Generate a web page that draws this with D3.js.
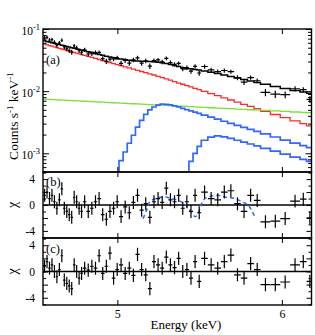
<!DOCTYPE html>
<html>
<head>
<meta charset="utf-8">
<script src="https://cdn.jsdelivr.net/npm/d3@7"></script>
<style>
  body { margin: 0; background: #fff; }
  svg { display: block; }
  text { font-family: "Liberation Serif", "Times New Roman", serif; fill: #000; }
</style>
</head>
<body>
<div id="chart"></div>
<script>
// energy bin edges (keV), 61 bins
var binEdges = [4.55,4.565,4.58,4.595,4.61,4.625,4.64,4.655,4.67,4.685,4.70,4.715,4.73,4.745,4.76,4.775,4.79,
    4.812,4.834,4.856,4.878,4.90,4.922,4.944,4.966,4.988,5.01,
    5.035,5.06,5.085,5.11,5.135,5.16,5.185,5.21,5.235,5.26,5.285,5.31,5.335,5.36,5.385,5.41,5.435,5.46,5.485,5.51,
    5.55,5.59,5.63,5.67,5.71,5.75,5.79,5.83,5.87,
    5.93,5.99,6.05,6.11,6.15,6.19];

// observed spectrum (counts s^-1 keV^-1) and 1 sigma errors
var counts = [0.0722,0.0732,0.0665,0.0674,0.0612,0.0552,0.0597,0.0659,0.0516,0.0482,0.0451,0.0425,0.0536,0.0498,0.0449,0.0420,
    0.0463,0.0396,0.0400,0.0419,0.0421,0.0333,0.0302,0.0327,0.0329,0.0346,
    0.0279,0.0312,0.0282,0.0318,0.0344,0.0282,0.0307,0.0252,0.0311,0.0318,0.0296,0.0338,0.0287,0.0269,0.0280,0.0229,0.0240,0.0210,0.0251,0.0196,
    0.0249,0.0220,0.0206,0.0215,0.0206,0.0165,0.0140,0.0165,0.0147,
    0.00955,0.00893,0.00877,0.01092,0.01056,0.00738];
var countErr = [0.00516,0.00505,0.00493,0.00482,0.0047,0.0046,0.00449,0.00439,0.0043,0.00419,0.0041,0.004,0.00391,0.00383,0.00374,0.00366,
    0.00356,0.00344,0.00334,0.00322,0.00312,0.00302,0.00293,0.00284,0.00274,0.00266,
    0.0028,0.00272,0.00267,0.00262,0.00259,0.00258,0.00257,0.00256,0.00253,0.00249,0.00243,0.00235,0.00229,0.00219,0.00211,0.00203,0.00196,0.00195,0.0019,0.00185,
    0.0019,0.00182,0.00173,0.00164,0.00155,0.00146,0.00139,0.00131,0.00124,
    0.00129,0.00119,0.00111,0.00103,0.00097,0.00092];

// model components per bin
var redPowerlaw = [0.0571,0.0557,0.0542,0.0529,0.0515,0.0502,0.0489,0.0477,0.0465,0.0453,0.0441,0.0430,0.0419,0.0409,0.0398,0.0388,
    0.0376,0.0362,0.0349,0.0336,0.0323,0.0311,0.0300,0.0289,0.0278,0.0268,
    0.0257,0.0246,0.0236,0.0226,0.0216,0.0207,0.0199,0.0190,0.0182,0.0173,0.0165,0.0157,0.0150,0.0142,0.0135,0.0129,0.0123,0.0117,0.0111,0.0106,
    0.00990,0.00914,0.00844,0.00780,0.00720,0.00665,0.00614,0.00567,0.00524,
    0.00475,0.00421,0.00374,0.00332,0.00301,0.00277];
var greenPowerlaw = [0.00742,0.00739,0.00735,0.00732,0.00728,0.00725,0.00721,0.00718,0.00715,0.00711,0.00708,0.00705,0.00701,0.00698,0.00695,0.00692,
    0.00688,0.00683,0.00679,0.00674,0.00669,0.00665,0.00660,0.00656,0.00651,0.00647,
    0.00642,0.00637,0.00632,0.00627,0.00622,0.00617,0.00613,0.00608,0.00603,0.00599,0.00594,0.00589,0.00585,0.00580,0.00576,0.00571,0.00567,0.00563,0.00558,0.00554,
    0.00548,0.00541,0.00535,0.00528,0.00522,0.00515,0.00509,0.00502,0.00496,
    0.00489,0.00480,0.00471,0.00462,0.00455,0.00449];
var blueLine1 = [null,null,null,null,null,null,null,null,null,null,null,null,null,null,null,null,
    null,null,null,null,null,null,null,null,null,null,
    0.00076,0.00105,0.00145,0.00195,0.00263,0.00339,0.00422,0.00501,0.00556,0.00596,0.00617,0.00614,0.00600,0.00579,0.00557,0.00528,0.00504,0.00481,0.00458,0.00438,
    0.00411,0.00381,0.00354,0.00328,0.00304,0.00282,0.00261,0.00243,0.00225,
    0.00205,0.00183,0.00163,0.00146,0.00133,0.00123];
var blueLine2 = [null,null,null,null,null,null,null,null,null,null,null,null,null,null,null,null,
    null,null,null,null,null,null,null,null,null,null,
    null,null,null,null,null,null,null,null,null,null,null,null,null,null,null,null,null,0.00074,0.00100,0.00129,
    0.00162,0.00182,0.00190,0.00184,0.00174,0.00162,0.00151,0.00141,0.00132,
    0.00120,0.00108,0.00097,0.00087,0.00080,0.00074];

// residuals (chi) for panels (b) and (c)
var chiB = [1.5,2.0,1.0,1.5,0.5,-0.5,0.8,2.5,-0.5,-1.0,-1.5,-1.9,1.2,0.5,-0.5,-1.0,
    0.5,-1.0,-0.5,0.5,1.0,-1.5,-2.2,-1.0,-0.5,0.5,
    -1.8,-0.3,-1.2,0.4,1.5,-0.8,0.2,-1.9,0.5,1.0,0.4,2.6,0.8,0.5,1.5,-0.5,0.5,-1.0,1.5,-1.2,
    2.0,1.0,0.8,2.0,2.2,0.2,-1.0,1.5,0.7,
    -2.6,-2.5,-2.1,0.6,0.9,-2.0];
var chiC = [0.8,1.5,0.5,1.0,0.0,-0.8,0.3,2.4,-1.3,-1.8,-2.2,-2.6,1.0,0.0,-1.0,-0.3,
    0.5,0.2,0.8,0.5,2.4,-0.3,0.8,2.8,-1.0,0.3,
    1.0,-0.3,0.5,-0.6,2.6,0.3,-0.5,-2.6,1.5,1.0,0.5,2.2,1.0,0.6,2.0,0.0,0.3,-1.0,1.5,-1.5,
    2.0,1.0,0.5,1.5,2.5,-0.5,-1.0,1.2,0.3,
    -2.0,-2.0,-1.6,1.0,1.5,-1.5];

// line profile drawn dashed in panel (b)
var dashEnergy = [5.156,5.178,5.197,5.227,5.276,5.330,5.379,5.416,5.446,5.474,5.495,5.513,5.537,5.574,5.612,5.659,5.714,5.757,5.795,5.817,5.836];
var dashChi = [-2.1,-0.8,0.5,0.95,1.25,1.0,0.6,0.0,-1.0,-1.8,-1.0,0.3,1.1,1.4,1.5,1.2,1.0,0.5,0.0,-0.9,-1.8];

var xTicks = [5, 6];
var logMajorTicks = [1e-3, 1e-2, 1e-1];
var chiMajorTicks = [-4, -2, 0, 2, 4];
var chiLabelTicks = [-4, 0, 4];

var width = 315, height = 335;
var left = 43, right = 311.5;
var red = "#ff2a2a", green = "#7ddf3a", blue = "#3366ff";

var svg = d3.select("#chart").append("svg")
    .attr("width", width)
    .attr("height", height);

var x = d3.scaleLinear().domain([4.548, 6.18]).range([left, right]);
var yA = d3.scaleLog().domain([5e-4, 0.1]).range([172, 29]);
var yB = d3.scaleLinear().domain([-5.1, 5.1]).range([238, 172]);
var yC = d3.scaleLinear().domain([-5.1, 5.1]).range([305, 238]);

var panels = [
    {name: "a", y: yA, top: 29, bottom: 172},
    {name: "b", y: yB, top: 172, bottom: 238},
    {name: "c", y: yC, top: 238, bottom: 305}
];

var defs = svg.append("defs");
panels.forEach(function (p) {
    defs.append("clipPath").attr("id", "clip-" + p.name)
        .append("rect")
        .attr("x", left).attr("y", p.top)
        .attr("width", right - left).attr("height", p.bottom - p.top);
});

function center(i) {
    return (binEdges[i] + binEdges[i + 1]) / 2;
}

// histogram-style steps on the bin edges
function stepPoints(vals, fromBottom) {
    var pts = [];
    vals.forEach(function (v, i) {
        if (v == null) return;
        if (pts.length === 0 && fromBottom) pts.push([binEdges[i], 1e-5]);
        pts.push([binEdges[i], v]);
        pts.push([binEdges[i + 1], v]);
    });
    return pts;
}

var modelTotal = redPowerlaw.map(function (r, i) {
    return r + greenPowerlaw[i] + (blueLine1[i] || 0) + (blueLine2[i] || 0);
});

// ---------- panel (a)
var gA = svg.append("g").attr("clip-path", "url(#clip-a)");
var lineA = d3.line().x(function (p) { return x(p[0]); }).y(function (p) { return yA(p[1]); });

[[redPowerlaw, red, false, 1.3], [greenPowerlaw, green, false, 1.3],
 [blueLine1, blue, true, 1.7], [blueLine2, blue, true, 1.7]].forEach(function (c) {
    gA.append("path")
        .attr("d", lineA(stepPoints(c[0], c[2])))
        .attr("fill", "none")
        .attr("stroke", c[1])
        .attr("stroke-width", c[3]);
});

var crossA = gA.selectAll(".crossA").data(counts).enter().append("g").attr("class", "crossA");
crossA.append("line")
    .attr("x1", function (d, i) { return x(binEdges[i]); })
    .attr("x2", function (d, i) { return x(binEdges[i + 1]); })
    .attr("y1", function (d) { return yA(d); })
    .attr("y2", function (d) { return yA(d); });
crossA.append("line")
    .attr("x1", function (d, i) { return x(center(i)); })
    .attr("x2", function (d, i) { return x(center(i)); })
    .attr("y1", function (d, i) { return yA(d - countErr[i]); })
    .attr("y2", function (d, i) { return yA(d + countErr[i]); });
crossA.selectAll("line").attr("stroke", "#000").attr("stroke-width", 1.2);

gA.append("path")
    .attr("d", lineA(stepPoints(modelTotal, false)))
    .attr("fill", "none")
    .attr("stroke", "#000")
    .attr("stroke-width", 1.5);

// ---------- residual panels
function residualPanel(p, chi, withDash) {
    var g = svg.append("g").attr("clip-path", "url(#clip-" + p.name + ")");
    g.append("line")
        .attr("x1", left).attr("x2", right)
        .attr("y1", p.y(0)).attr("y2", p.y(0))
        .attr("stroke", "#000").attr("stroke-width", 1.4);

    if (withDash) {
        var dl = d3.line()
            .x(function (d, i) { return x(dashEnergy[i]); })
            .y(function (d) { return p.y(d); })
            .curve(d3.curveCatmullRom);
        g.append("path")
            .attr("d", dl(dashChi))
            .attr("fill", "none")
            .attr("stroke", blue)
            .attr("stroke-width", 1.5)
            .attr("stroke-dasharray", "4,3");
    }

    var cr = g.selectAll(".cross").data(chi).enter().append("g");
    cr.append("line")
        .attr("x1", function (d, i) { return x(binEdges[i]); })
        .attr("x2", function (d, i) { return x(binEdges[i + 1]); })
        .attr("y1", function (d) { return p.y(d); })
        .attr("y2", function (d) { return p.y(d); });
    cr.append("line")
        .attr("x1", function (d, i) { return x(center(i)); })
        .attr("x2", function (d, i) { return x(center(i)); })
        .attr("y1", function (d) { return p.y(d - 1); })
        .attr("y2", function (d) { return p.y(d + 1); });
    cr.selectAll("line").attr("stroke", "#000").attr("stroke-width", 1.2);
}
residualPanel(panels[1], chiB, true);
residualPanel(panels[2], chiC, false);

// ---------- ticks (inward, all four sides)
function noDomain(g) { g.select(".domain").remove(); }

panels.forEach(function (p) {
    svg.append("g").attr("transform", "translate(0," + p.top + ")")
        .call(d3.axisBottom(x).tickValues(xTicks).tickSize(5).tickFormat(""))
        .call(noDomain);
    svg.append("g").attr("transform", "translate(0," + p.bottom + ")")
        .call(d3.axisTop(x).tickValues(xTicks).tickSize(5).tickFormat(""))
        .call(noDomain);
});

var minorLog = yA.ticks().filter(function (v) { return logMajorTicks.indexOf(v) < 0; });
[[logMajorTicks, 6], [minorLog, 3.5]].forEach(function (t) {
    svg.append("g").attr("transform", "translate(" + left + ",0)")
        .call(d3.axisRight(yA).tickValues(t[0]).tickSize(t[1]).tickFormat(""))
        .call(noDomain);
    svg.append("g").attr("transform", "translate(" + right + ",0)")
        .call(d3.axisLeft(yA).tickValues(t[0]).tickSize(t[1]).tickFormat(""))
        .call(noDomain);
});

[panels[1], panels[2]].forEach(function (p) {
    var minorChi = p.y.ticks(10).filter(function (v) { return chiMajorTicks.indexOf(v) < 0; });
    [[chiMajorTicks, 5], [minorChi, 3]].forEach(function (t) {
        svg.append("g").attr("transform", "translate(" + left + ",0)")
            .call(d3.axisRight(p.y).tickValues(t[0]).tickSize(t[1]).tickFormat(""))
            .call(noDomain);
        svg.append("g").attr("transform", "translate(" + right + ",0)")
            .call(d3.axisLeft(p.y).tickValues(t[0]).tickSize(t[1]).tickFormat(""))
            .call(noDomain);
    });
    // chi tick labels
    svg.append("g").attr("transform", "translate(" + left + ",0)")
        .call(d3.axisLeft(p.y).tickValues(chiLabelTicks).tickSize(0).tickPadding(8)
            .tickFormat(function (d) { return String(d); }))
        .call(noDomain)
        .attr("font-family", null)
        .attr("font-size", 11.5);
});

// log labels 10^n with superscript
var yLabels = svg.append("g").attr("transform", "translate(" + left + ",0)")
    .call(d3.axisLeft(yA).tickValues(logMajorTicks).tickSize(0).tickPadding(3).tickFormat(""))
    .call(noDomain)
    .attr("font-family", null)
    .attr("font-size", 11.5);
yLabels.selectAll(".tick text").each(function (d) {
    var t = d3.select(this).attr("dy", "0.45em");
    t.append("tspan").text("10");
    t.append("tspan").attr("dy", -5).attr("font-size", 8.5).text(String(Math.round(Math.log10(d))));
});

// energy labels
svg.append("g").attr("transform", "translate(0,305)")
    .call(d3.axisBottom(x).tickValues(xTicks).tickSize(0).tickPadding(4).tickFormat(d3.format("d")))
    .call(noDomain)
    .attr("font-family", null)
    .attr("font-size", 12);

// frames
panels.forEach(function (p) {
    svg.append("rect")
        .attr("x", left).attr("y", p.top)
        .attr("width", right - left).attr("height", p.bottom - p.top)
        .attr("fill", "none")
        .attr("stroke", "#000")
        .attr("stroke-width", 1.4);
});

// titles
var yt = svg.append("text")
    .attr("transform", "translate(18,116) rotate(-90)")
    .attr("text-anchor", "middle")
    .attr("font-size", 13.5);
yt.append("tspan").text("Counts s");
yt.append("tspan").attr("dy", -5).attr("font-size", 9).text("-1");
yt.append("tspan").attr("dy", 5).text(" keV");
yt.append("tspan").attr("dy", -5).attr("font-size", 9).text("-1");

[panels[1], panels[2]].forEach(function (p) {
    svg.append("text")
        .attr("transform", "translate(17," + p.y(0) + ") rotate(-90)")
        .attr("text-anchor", "middle")
        .attr("font-size", 14)
        .text("χ");
});

svg.append("text")
    .attr("x", 186).attr("y", 329)
    .attr("text-anchor", "middle")
    .attr("font-size", 13)
    .text("Energy (keV)");

[["(a)", 64], ["(b)", 186], ["(c)", 253]].forEach(function (l) {
    svg.append("text").attr("x", 46).attr("y", l[1]).attr("font-size", 12.5).text(l[0]);
});
</script>
</body>
</html>
